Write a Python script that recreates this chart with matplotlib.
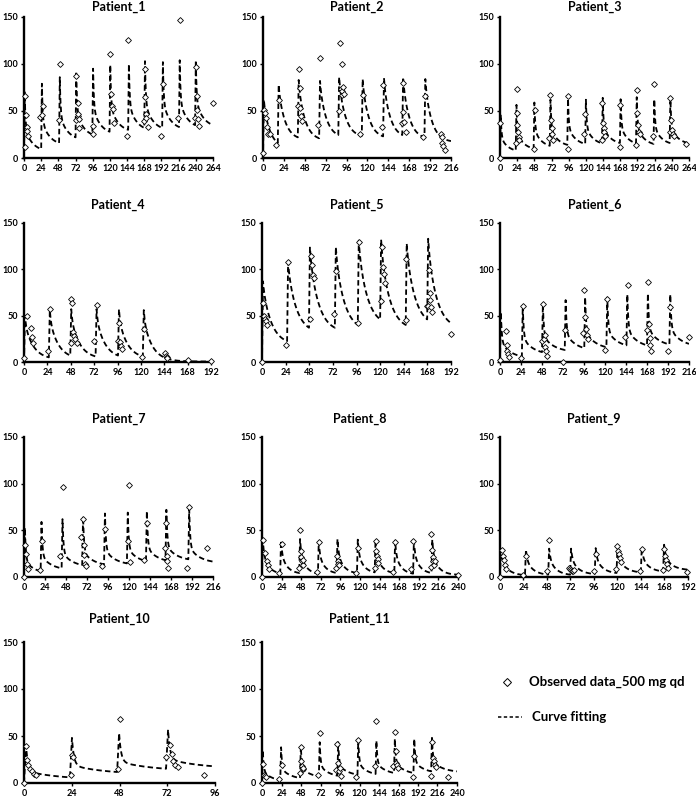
import numpy as np
import matplotlib
matplotlib.use("Agg")
import matplotlib.pyplot as plt
from matplotlib.lines import Line2D

plt.rcParams['font.family'] = ['Lato', 'DejaVu Sans']
plt.rcParams['font.weight'] = 'bold'

# %% fitted curve key values: dose times (h), peak after each dose, pre-dose trough
p1_dose = [0, 24, 49, 72, 95.5, 119.5, 145.5, 168, 193, 216.5, 239]
p1_peak = [70, 79, 86, 92, 95, 99, 100, 103, 102, 104, 104]
p1_trough = [0, 9.5, 16, 22, 25, 28, 30, 32, 32, 33, 35]
p1_end = (264, 35)

p2_dose = [0, 17, 40, 64.5, 86.5, 113.5, 138, 160, 185.5]
p2_peak = [62, 78, 83, 82, 86, 84, 85, 86, 84]
p2_trough = [0, 16, 22, 21, 24.5, 23.5, 23, 24.5, 22]
p2_end = (216, 18)

p3_dose = [0, 22, 47, 69.5, 94, 119, 142.5, 167.5, 190, 214.5, 237]
p3_peak = [46, 56.5, 59, 62, 63, 62, 64, 62.5, 64.7, 62.5, 63]
p3_trough = [0, 8, 10, 13, 14, 15, 15.6, 16, 15.6, 15, 16]
p3_end = (264, 15.6)

p4_dose = [0, 25.5, 47.5, 73.5, 96.5, 122]
p4_peak = [50, 56, 57, 57, 57, 56]
p4_trough = [0, 5, 7, 6, 7, 6]
p4_end = (192, 0.5)

p5_dose = [0, 25.5, 47.7, 74, 97.3, 120, 146, 167.8]
p5_peak = [87, 108, 123.5, 124, 131, 132, 128, 133]
p5_trough = [0, 22.5, 37, 37, 40, 46, 40, 46]
p5_end = (192, 42)

p6_dose = [0, 25, 48, 74, 96.3, 121.6, 144.5, 168, 193.6]
p6_peak = [54, 60.7, 62.5, 66.8, 70, 69.6, 73, 74, 73]
p6_trough = [0, 6, 10.7, 13, 15, 16, 18, 18, 19]
p6_end = (216, 19.6)

p7_dose = [0, 19, 43, 66.5, 91.5, 117.6, 139.4, 161.7, 187.8]
p7_peak = [53, 59, 62, 65, 68, 69, 70.7, 72, 72.5]
p7_trough = [0, 6, 9.3, 12.8, 13.6, 14.6, 17, 18, 19]
p7_end = (216, 16.5)

p8_dose = [0, 22.3, 45.6, 68.5, 91.4, 116.3, 138, 162, 185, 207.5]
p8_peak = [40, 39, 40.7, 38, 40.7, 40, 40, 39, 39, 40]
p8_trough = [0, 4, 4.3, 3.6, 4.3, 4.3, 5, 4.3, 3.6, 4.3]
p8_end = (240, 2.5)

p9_dose = [0, 25.5, 49.2, 71.6, 96.7, 119, 143.8, 166.6]
p9_peak = [30, 29.3, 30.4, 30.4, 31, 33.6, 31.8, 34.6]
p9_trough = [0, 2, 2.5, 2.5, 3.2, 4.3, 5, 6]
p9_end = (192, 7.9)

p10_dose = [0, 23.1, 46.8, 71.4]
p10_peak = [40, 48, 53, 56.7]
p10_trough = [0, 6, 11.7, 15.2]
p10_end = (96, 17.7)

p11_dose = [0, 22.5, 46.8, 70, 92.8, 117.5, 139.8, 162.5, 186.4, 208.2]
p11_peak = [35, 38, 39, 43.4, 43.4, 46, 45, 47, 47, 48]
p11_trough = [0, 3, 5.3, 7, 7.8, 8.9, 9.6, 10.7, 10.7, 12.4]
p11_end = (240, 12.4)

# decay shape of the fit per patient: fast fraction, fast rate, slow rate (1/h)
shapes = [(0.6, 0.9, 0.09), (0.1, 0.9, 0.13), (0.6, 0.9, 0.09), (0.2, 0.9, 0.11),
          (0.1, 0.7, 0.11), (0.65, 0.9, 0.08), (0.7, 0.9, 0.08), (0.4, 0.7, 0.13),
          (0.4, 0.7, 0.13), (0.75, 1.0, 0.06), (0.65, 0.9, 0.08)]

# %% observed concentrations
p1_obs_t = [0.9, 1.9, 2.8, 3.8, 4.2, 5.6, 23, 25.3, 26.7, 48.8, 50, 73, 72.6, 75, 75, 76, 77, 77,
            96.6, 95.7, 120.5, 121.9, 123, 124, 126, 145.8, 144.4, 169.3, 167, 169.7, 170.7, 171, 173,
            191.8, 194, 218, 215.7, 240, 239, 241, 242, 243, 245, 264]
p1_obs_c = [12, 66, 46, 33, 29, 23, 44, 46, 55, 40, 100, 87, 40, 58, 45, 47, 42, 32,
            34, 25, 111, 68, 55, 52, 37, 125, 23, 95, 39, 65, 47, 43, 33,
            23, 79, 147, 43, 97, 43, 66, 51, 41, 34, 59]

p2_obs_t = [0, 1.2, 2.3, 3.8, 4.6, 6.1, 7.7, 15.3, 18, 40.3, 41.4, 42.2, 43, 44.1, 45.3, 63.7, 66,
            87.5, 89, 90.2, 89.4, 90.6, 91.3, 92, 92.9, 111.3, 114.4, 136.2, 138.1,
            159.2, 160.4, 161.2, 162, 163.9, 183.4, 186.1, 204, 205.3, 206, 207, 208.7]
p2_obs_c = [5, 51, 48, 43, 33, 26, 26, 14, 62, 55, 95, 74, 53, 45, 39, 35, 106,
            50, 122, 100, 73, 67, 71, 75, 68, 25, 67, 33, 78,
            37, 80, 49, 38, 28, 22, 66, 25, 22, 16, 13, 9]

p3_obs_t = [0, 0, 22.4, 23.3, 23.8, 24.3, 25.2, 26, 27, 47.1, 48.5, 69, 70, 71.4, 72.3, 72.8, 74.6,
            94.7, 95.1, 117, 119, 142.7, 141.8, 143.6, 144.6, 145, 146, 167, 167.9,
            190.3, 191.2, 192, 193, 194, 195, 213.6, 215.5, 237, 237.9, 238.8, 240.2, 241.6, 243.5, 260]
p3_obs_c = [37, 0, 16, 73, 48, 35, 28, 22, 19, 10, 51, 21, 67, 40, 32, 25, 19,
            10, 65.5, 26, 47, 59, 19, 37, 32, 28, 23, 12, 56,
            14, 72, 48, 35, 28, 25, 23, 79, 28, 64, 40.5, 30, 26, 23, 15]

p4_obs_t = [0, 3.4, 7.2, 8.6, 9.6, 25, 26.7, 47.9, 48.6, 49.6, 50.6, 51.7, 52.7, 54, 72.2, 74.6,
            96.1, 97.5, 98.9, 99.9, 100.9, 120.8, 123.2, 144.8, 145.4, 146.5, 147.2, 168, 192]
p4_obs_c = [4, 50, 37, 26.5, 21, 12, 57, 20, 67.6, 64, 32, 28, 25, 21, 23, 62,
            22.5, 42, 22, 17, 14, 5.5, 36, 9.5, 7, 5, 4, 2, 1.5]

p5_obs_t = [0, 1, 2.4, 3.4, 4.4, 5.4, 24.5, 26.5, 48.3, 49.7, 50.7, 51.7, 52.8, 72.9, 74.9,
            98.7, 97.4, 120.5, 122.2, 123.2, 123.9, 125, 146, 146.4,
            167.5, 168.2, 169.2, 170.2, 170.9, 171.6, 173, 192]
p5_obs_c = [0, 63.6, 50, 46, 44, 40, 18, 108, 46, 114, 105, 94, 91, 52, 98.6,
            129.6, 42, 66, 123.6, 102, 95, 85, 45.7, 110.7,
            60, 60.7, 99, 75, 67, 59, 54, 30.7]

p6_obs_t = [0, 6.9, 7.7, 8.4, 9.2, 10.7, 24, 26, 47.9, 49, 50.2, 51, 51.7, 52.9, 53.6, 72, 74,
            96.5, 95, 97.3, 98, 99.2, 100.3, 119.5, 122.6, 143.2, 146,
            167.8, 169, 170, 171, 171.6, 172.4, 191.5, 193.8, 216]
p6_obs_c = [1.8, 33, 18, 12, 9, 5.4, 4.6, 60.7, 22.5, 62.5, 25, 28.6, 16, 12, 7, 0, 34,
            77.5, 31, 49, 35.7, 29.6, 24.6, 13, 67.5, 27.5, 83,
            34.6, 86, 41, 25.7, 18, 12, 12, 59, 27.5]

p7_obs_t = [0, 1.2, 2.7, 3.8, 5, 18, 20, 41, 44, 65.2, 67.2, 68, 68.7, 69.8, 71, 89.4, 92,
            119, 120, 121.6, 137, 140, 161, 162.3, 163, 163.9, 165, 186, 188, 209]
p7_obs_c = [0, 34.3, 25, 13.6, 8.2, 7, 38.6, 23, 96.8, 43, 62.5, 34, 24, 14, 11.8, 11.4, 51.8,
            39, 99, 16, 18.6, 57.5, 31.4, 58, 23, 17, 10, 10, 75, 31.4]

p8_obs_t = [0, 1.6, 4.1, 5.7, 7, 8.6, 21.3, 24.1, 45, 46.6, 47.4, 48.2, 49, 50, 50.7, 67, 69.5,
            90.8, 91.6, 92.8, 93.6, 94.8, 115.3, 117.3, 138.2, 139, 139.8, 140.6, 141.5, 142.3,
            161, 163.1, 183, 184.8, 206.5, 207.3, 208.1, 209, 209.7, 210.5, 211.4, 240]
p8_obs_c = [0, 39.3, 25.7, 17.5, 13, 9, 4.3, 35.7, 9.6, 50, 27.5, 21, 16.8, 13.2, 18.6, 5, 37.5,
            9.6, 22, 17.5, 14, 12.5, 4.5, 31, 9.6, 39, 27.5, 23, 19, 15,
            5, 37, 9, 39, 10.7, 46, 28.6, 21, 16.8, 13.2, 17.5, 2.5]

p9_obs_t = [0, 1.7, 2.7, 3.7, 4.7, 6.1, 23, 26.5, 47.5, 50.2, 70.6, 71.6, 72.6, 73.3, 74.3, 75.6,
            96, 97.7, 118.7, 120, 121, 122, 123, 124, 143.1, 144.8,
            166.2, 167.9, 169, 169.6, 170.6, 171.6, 191]
p9_obs_c = [0, 29.3, 22, 18, 13, 8.6, 2.5, 23, 6.8, 40, 9.6, 9, 7.9, 6.8, 6, 7,
            6, 25, 8.6, 32.9, 28, 24.6, 20.4, 16, 6, 30,
            7.9, 30.4, 23, 18.6, 14, 9.6, 5]

p10_obs_t = [0, 0.8, 1.5, 2.2, 3, 3.9, 4.9, 5.9, 23.6, 24.1, 24.4, 47.2, 48,
             71.6, 73.3, 74.3, 75, 76, 77.5, 90.4]
p10_obs_c = [0, 39, 24, 18.8, 14.5, 12.4, 10, 8.9, 8.2, 30, 28, 15.2, 68.4,
             27.7, 40, 31, 23, 19.5, 17.4, 8.9]

p11_obs_t = [0, 1.2, 2.5, 3.7, 5, 21.4, 24.3, 46.2, 47.4, 48.2, 49, 50, 51, 69.3, 71,
             91.5, 92.8, 94, 94.8, 96, 97.3, 116.3, 118, 139, 140.2,
             161.6, 163.7, 164.5, 165.4, 166.2, 167, 185.6, 187.2,
             208.2, 209.5, 210.7, 211.5, 212.4, 213.6, 228.9]
p11_obs_c = [0, 20, 8.9, 7, 6, 4, 19, 10.7, 38.4, 23.8, 17.8, 15.3, 16, 8.2, 53.7,
             14.2, 41.6, 21.3, 12.4, 16, 7.8, 6, 46.2, 17.8, 65.8,
             17.8, 54, 33.8, 21.3, 18.8, 16, 6.4, 29,
             7, 43.4, 26.7, 23, 19.5, 16.7, 6.4]

names = ['Patient_%d' % i for i in range(1, 12)]
x_max = [264, 216, 264, 192, 192, 216, 216, 240, 192, 96, 240]
y_ticks = [0, 50, 100, 150]

fits = [(p1_dose, p1_peak, p1_trough, p1_end), (p2_dose, p2_peak, p2_trough, p2_end),
        (p3_dose, p3_peak, p3_trough, p3_end), (p4_dose, p4_peak, p4_trough, p4_end),
        (p5_dose, p5_peak, p5_trough, p5_end), (p6_dose, p6_peak, p6_trough, p6_end),
        (p7_dose, p7_peak, p7_trough, p7_end), (p8_dose, p8_peak, p8_trough, p8_end),
        (p9_dose, p9_peak, p9_trough, p9_end), (p10_dose, p10_peak, p10_trough, p10_end),
        (p11_dose, p11_peak, p11_trough, p11_end)]
obs = [(p1_obs_t, p1_obs_c), (p2_obs_t, p2_obs_c), (p3_obs_t, p3_obs_c), (p4_obs_t, p4_obs_c),
       (p5_obs_t, p5_obs_c), (p6_obs_t, p6_obs_c), (p7_obs_t, p7_obs_c), (p8_obs_t, p8_obs_c),
       (p9_obs_t, p9_obs_c), (p10_obs_t, p10_obs_c), (p11_obs_t, p11_obs_c)]

# panel boxes in pixels: left, top, right, bottom (figure 696 x 799)
boxes = [(24, 17, 213, 158), (263, 17, 451, 158), (500, 17, 689, 158),
         (24, 223, 211, 362), (262, 223, 451, 362), (500, 223, 689, 362),
         (24, 437, 213, 577), (262, 437, 458, 577), (500, 437, 688, 577),
         (24, 642, 215, 783), (262, 642, 457, 783)]
title_y = [7, 7, 7, 205, 205, 205, 419, 419, 419, 619, 619]

W, H = 696, 799


def fit_curve(dose, peak, trough, end, shape, tmax=1.0):
    w, ka, kb = shape
    nxt_t = list(dose[1:]) + [end[0]]
    nxt_c = list(trough[1:]) + [end[1]]
    ts, cs = [], []
    for d, p, tr, t2, c2 in zip(dose, peak, trough, nxt_t, nxt_c):
        tau = np.linspace(0, t2 - d - tmax, 80)
        g = w * np.exp(-ka * tau) + (1 - w) * np.exp(-kb * tau)
        c = c2 + (p - c2) * (g - g[-1]) / (1 - g[-1])
        ts += [d] + list(d + tmax + tau)
        cs += [tr] + list(c)
    return np.array(ts), np.array(cs)


fig = plt.figure(figsize=(W / 100, H / 100), dpi=100)

for i in range(11):
    l, t, r, b = boxes[i]
    ax = fig.add_axes([l / W, 1 - b / H, (r - l) / W, (b - t) / H])
    tt, cc = fit_curve(*fits[i], shapes[i])
    ax.plot(tt, cc, color='black', lw=1.3, ls=(0, (3, 1.8)))
    ax.plot(obs[i][0], obs[i][1], ls='none', marker='D', ms=3.0, mfc='white',
            mec='black', mew=0.6, clip_on=False, zorder=3)
    ax.set_xlim(0, x_max[i])
    ax.set_ylim(0, 150)
    ax.set_xticks(np.arange(0, x_max[i] + 1, 24))
    ax.set_yticks(y_ticks)
    for s in ['top', 'right']:
        ax.spines[s].set_visible(False)
    for s in ['left', 'bottom']:
        ax.spines[s].set_linewidth(1.7)
    ax.tick_params(labelsize=6.5, width=1, length=2.5, pad=2)
    for lab in ax.get_xticklabels() + ax.get_yticklabels():
        lab.set_fontweight('bold')
    fig.text((l + r) / 2 / W, 1 - title_y[i] / H, names[i], ha='center', va='center',
             fontsize=9, fontweight='bold')

# legend in the empty bottom-right slot
fig.add_artist(Line2D([507 / W], [1 - 682 / H], ls='none', marker='D', ms=4.5, mfc='white',
                      mec='black', mew=0.7))
fig.text(529 / W, 1 - 682 / H, 'Observed data_500 mg qd', fontsize=9.5, fontweight='bold', va='center')
fig.add_artist(Line2D([498 / W, 522 / W], [1 - 717 / H, 1 - 717 / H], color='black',
                      lw=1.1, ls=(0, (2.2, 1.6))))
fig.text(532 / W, 1 - 717 / H, 'Curve fitting', fontsize=9.5, fontweight='bold', va='center')

fig.savefig('out.png', dpi=100)
